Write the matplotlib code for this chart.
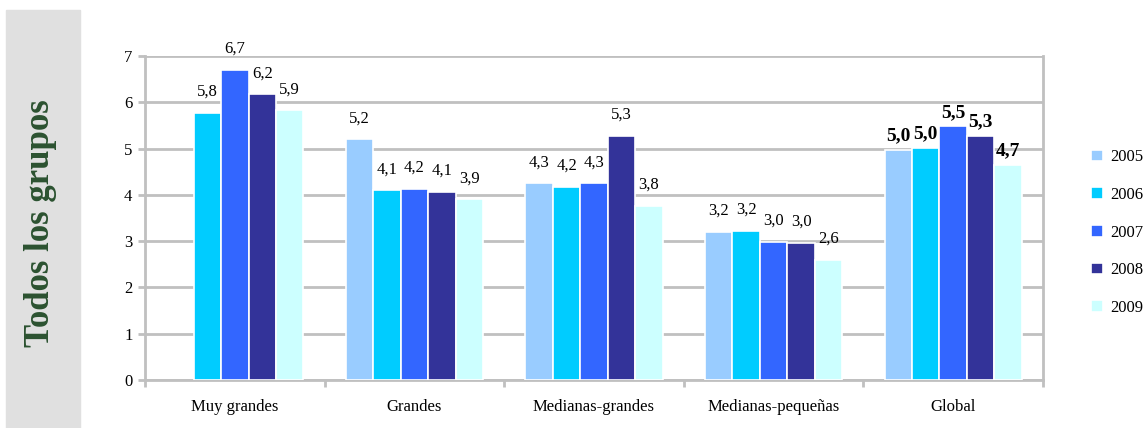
import matplotlib.pyplot as plt
import numpy as np
from matplotlib.patches import Rectangle

plt.rcParams["font.family"] = ["Liberation Serif", "DejaVu Serif"]

# data
categories = ["Muy grandes", "Grandes", "Medianas-grandes", "Medianas-pequeñas", "Global"]
years = ["2005", "2006", "2007", "2008", "2009"]
colors = ["#99CCFF", "#00CCFF", "#3366FF", "#333399", "#CCFFFF"]

v2005 = [np.nan, 5.2, 4.25, 3.2, 4.97]
v2006 = [5.77, 4.1, 4.17, 3.22, 5.01]
v2007 = [6.7, 4.13, 4.25, 2.98, 5.48]
v2008 = [6.17, 4.07, 5.27, 2.97, 5.27]
v2009 = [5.83, 3.9, 3.77, 2.6, 4.65]

lab2005 = ["", "5,2", "4,3", "3,2", "5,0"]
lab2006 = ["5,8", "4,1", "4,2", "3,2", "5,0"]
lab2007 = ["6,7", "4,2", "4,3", "3,0", "5,5"]
lab2008 = ["6,2", "4,1", "5,3", "3,0", "5,3"]
lab2009 = ["5,9", "3,9", "3,8", "2,6", "4,7"]

series = [v2005, v2006, v2007, v2008, v2009]
labels = [lab2005, lab2006, lab2007, lab2008, lab2009]

fig = plt.figure(figsize=(11.44, 4.28), dpi=100)

# gray side panel with the group title
fig.patches.append(Rectangle((6 / 1144, 0), 74 / 1144, 418 / 428,
                             transform=fig.transFigure, color="#e0e0e0", zorder=0))
fig.text(41 / 1144, 1 - 223 / 428, "Todos los grupos", rotation=90, ha="center",
         va="center", fontsize=25, fontweight="bold", color="#2b5230")

ax = fig.add_axes([145 / 1144, 1 - 380 / 428, 898 / 1144, 324 / 428])

x = np.arange(len(categories))
w = 0.153
grid_c = "#c0c0c0"
for i, (vals, labs) in enumerate(zip(series, labels)):
    pos = x + (i - 2) * w
    ax.bar(pos, vals, width=w, color=colors[i], edgecolor="white", linewidth=1.2,
           label=years[i], zorder=3)
    for j, (p, v, t) in enumerate(zip(pos, vals, labs)):
        if not t:
            continue
        if j == len(categories) - 1:
            ax.text(p, v + 0.12, t, ha="center", va="bottom", fontsize=14,
                    fontweight="bold", zorder=4)
        else:
            ax.text(p, v + 0.28, t, ha="center", va="bottom", fontsize=12, zorder=4)

ax.set_xlim(-0.5, len(categories) - 0.5)
ax.set_ylim(0, 7)
ax.set_yticks(range(8))
ax.set_xticks(x)
ax.set_xticklabels(categories, fontsize=12)
ax.set_xticks(np.arange(-0.5, len(categories)), minor=True)
ax.tick_params(axis="x", which="major", length=0, pad=14)
ax.tick_params(axis="x", which="minor", length=5, width=2, color=grid_c)
ax.tick_params(axis="y", length=5, width=2, color=grid_c, labelsize=12, pad=4)
ax.yaxis.grid(True, color=grid_c, linewidth=2, zorder=0)
ax.set_axisbelow(True)
for side in ["left", "right", "bottom"]:
    ax.spines[side].set_color(grid_c)
    ax.spines[side].set_linewidth(2)
ax.spines["top"].set_visible(False)

ax.legend(loc="center left", bbox_to_anchor=(1.054, 0.455), frameon=False, fontsize=12,
          handlelength=0.7, handleheight=0.7, handletextpad=0.4, labelspacing=1.3,
          borderpad=0, borderaxespad=0)

fig.savefig("out.png", dpi=100)
